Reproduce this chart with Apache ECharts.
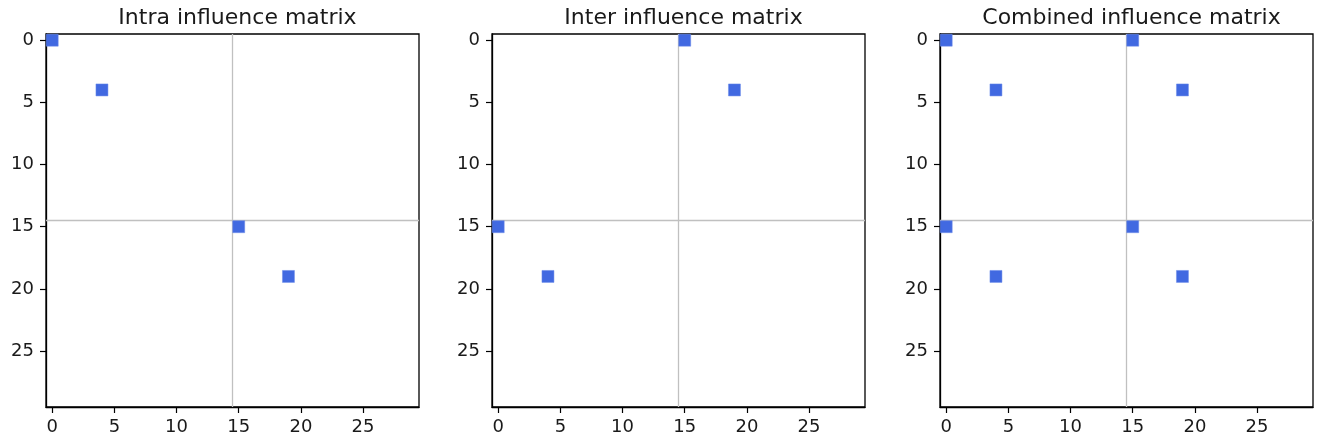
<!DOCTYPE html>
<html>
<head>
<meta charset="utf-8">
<script src="https://cdn.jsdelivr.net/npm/echarts@6/dist/echarts.min.js"></script>
<style>
html,body{margin:0;padding:0;background:#fff;}
#chart{width:1323px;height:443px;}
</style>
</head>
<body>
<div id="chart"></div>
<script>
// ---- data ----
const matrixSize = 30;
const tickValues = [0, 5, 10, 15, 20, 25];
const blockBoundary = 14.5;
const panelTitles = ['Intra influence matrix', 'Inter influence matrix', 'Combined influence matrix'];
// non-zero entries: column index (x) and row index (y)
const intraCols = [0, 4, 15, 19];
const intraRows = [0, 4, 15, 19];
const interCols = [15, 19, 0, 4];
const interRows = [0, 4, 15, 19];
const combinedCols = [0, 4, 15, 19, 15, 19, 0, 4];
const combinedRows = [0, 4, 15, 19, 0, 4, 15, 19];

const panels = [
  { cols: intraCols, rows: intraRows },
  { cols: interCols, rows: interRows },
  { cols: combinedCols, rows: combinedRows }
];

// ---- layout ----
const gridLefts = [46, 492, 940];
const gridWidth = 373;
const gridTop = 34;
const gridHeight = 373;
const font = 'DejaVu Sans';
const textColor = '#1a1a1a';

const chart = echarts.init(document.getElementById('chart'), null, { renderer: 'canvas' });

const titles = [], grids = [], xAxes = [], yAxes = [], series = [];
panels.forEach((p, i) => {
  titles.push({
    text: panelTitles[i],
    left: gridLefts[i] + gridWidth / 2,
    top: 2,
    textAlign: 'center',
    textStyle: { fontFamily: font, fontSize: 22, fontWeight: 'normal', color: textColor }
  });
  grids.push({
    left: gridLefts[i], top: gridTop, width: gridWidth, height: gridHeight,
    show: true, borderColor: '#000', borderWidth: 1.3, backgroundColor: '#fff'
  });
  const axisCommon = {
    type: 'value', gridIndex: i,
    min: -0.5, max: matrixSize - 0.5,
    splitLine: { show: false },
    axisLine: { show: true, onZero: false, lineStyle: { color: '#000', width: 1.3 } },
    axisTick: { show: true, length: 6, inside: false, customValues: tickValues, lineStyle: { color: '#000', width: 1.2 } },
    axisLabel: { show: true, customValues: tickValues, fontFamily: font, fontSize: 18, color: textColor, margin: 11 }
  };
  xAxes.push(Object.assign({}, axisCommon, { position: 'bottom' }));
  yAxes.push(Object.assign({}, axisCommon, { position: 'left', inverse: true,
    axisLabel: Object.assign({}, axisCommon.axisLabel, { margin: 12 }) }));
  series.push({
    type: 'scatter',
    xAxisIndex: i, yAxisIndex: i,
    symbol: 'rect', symbolSize: 12,
    clip: false,
    itemStyle: { color: '#4169e1', borderColor: '#6d8ce8', borderWidth: 0.5, opacity: 1 },
    data: p.cols.map((c, k) => [c, p.rows[k]]),
    z: 3,
    markLine: {
      silent: true, symbol: 'none', animation: false,
      label: { show: false },
      lineStyle: { color: '#c0c0c0', width: 1.3, type: 'solid' },
      emphasis: { disabled: true },
      data: [{ xAxis: blockBoundary }, { yAxis: blockBoundary }],
      z: 1
    }
  });
});

chart.setOption({
  animation: false,
  backgroundColor: '#fff',
  title: titles,
  grid: grids,
  xAxis: xAxes,
  yAxis: yAxes,
  series: series
});
</script>
</body>
</html>
